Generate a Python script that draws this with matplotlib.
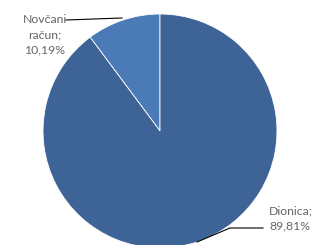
import matplotlib
matplotlib.use('Agg')
import matplotlib.pyplot as plt

labels = ['Novčani\nračun;\n10,19%', 'Dionica;\n89,81%']
values = [10.19, 89.81]
colors = ['#4A7BB7', '#3E6497']

fig = plt.figure(figsize=(3.15, 2.45), dpi=100)
ax = fig.add_axes([0, 0, 1, 1])

ax.pie(values, colors=colors, startangle=90, counterclock=True,
       center=(160, 114), radius=117,
       wedgeprops=dict(edgecolor='white', linewidth=0.6))
ax.set_xlim(0, 315)
ax.set_ylim(0, 245)
ax.set_aspect('equal')
ax.axis('off')

txt = dict(family='Lato', fontsize=8.8, color='#666666', linespacing=1.45)
ax.text(45, 210, labels[0], ha='center', va='center', **txt)
ax.plot([66, 122], [225, 227], color='black', lw=0.8)
ax.text(269, 27, labels[1], ha='left', va='center', **txt)
ax.plot([263, 230, 197], [17, 17, 3], color='black', lw=0.8)

fig.savefig('out.png', dpi=100)
